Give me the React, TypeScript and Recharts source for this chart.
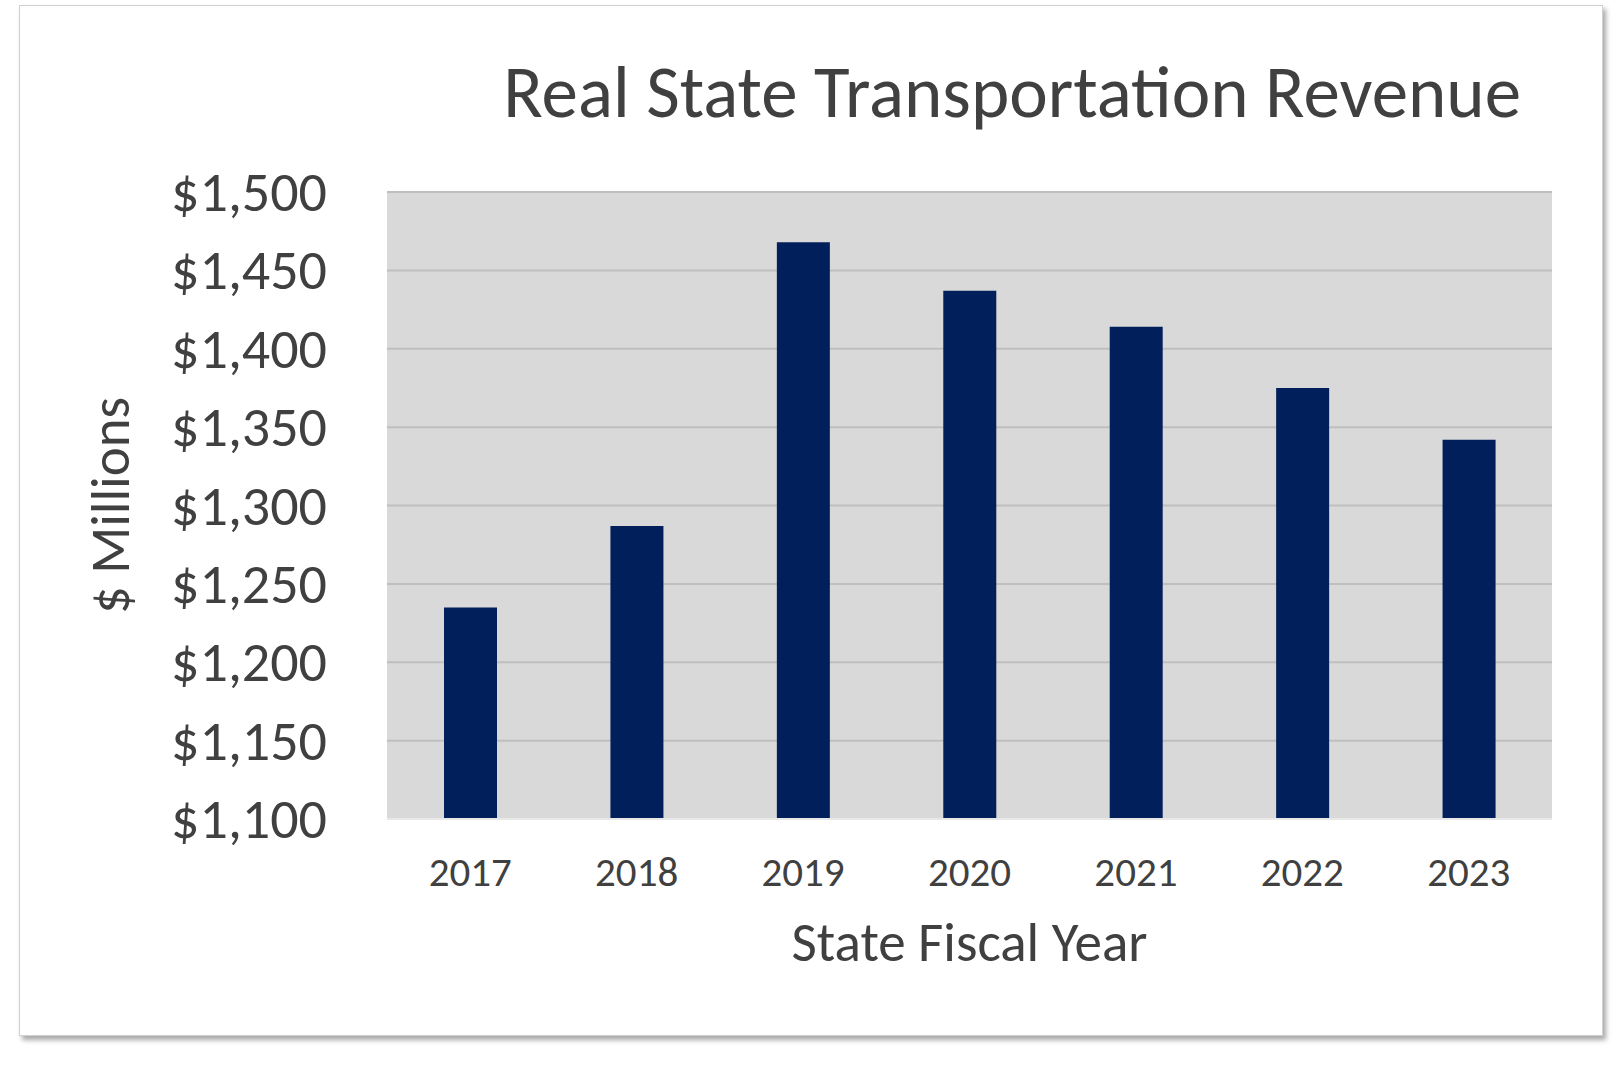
import { BarChart, Bar, XAxis, YAxis, CartesianGrid, Label } from "recharts";

const years = ["2017", "2018", "2019", "2020", "2021", "2022", "2023"];
const revenue = [1235, 1287, 1468, 1437, 1414, 1375, 1342];
const yTicks = [1100, 1150, 1200, 1250, 1300, 1350, 1400, 1450, 1500];

const data = years.map((year, i) => ({ year, revenue: revenue[i] }));
const font = "Carlito, 'Open Sans', 'Liberation Sans', sans-serif";
const ink = "#404040";

function YTick({ x, y, payload }: any) {
  return (
    <text x={x - 52} y={y} dy={19} textAnchor="end" fontSize={56} fill={ink} fontFamily={font}>
      {"$" + payload.value.toLocaleString("en-US")}
    </text>
  );
}

function XTick({ x, y, payload }: any) {
  return (
    <text x={x} y={y} dy={59} textAnchor="middle" fontSize={41} fill={ink} fontFamily={font}>
      {payload.value}
    </text>
  );
}

export default function App() {
  return (
    <div style={{ position: "absolute", left: 0, top: 0, width: 1622, height: 1067, background: "#fff" }}>
      <div
        style={{
          position: "absolute",
          left: 19,
          top: 5,
          width: 1582,
          height: 1029,
          border: "1px solid #d0d0d0",
          boxShadow: "3px 4px 5px rgba(0,0,0,0.35)",
          background: "#fff",
        }}
      >
        <div
          style={{
            position: "absolute",
            right: 81,
            top: 38,
            fontSize: 73,
            lineHeight: "96px",
            color: ink,
            fontFamily: font,
            whiteSpace: "nowrap",
          }}
        >
          Real State Transportation Revenue
        </div>
        <BarChart width={1582} height={1029} data={data} margin={{ top: 186, right: 50, left: 0, bottom: 0 }}>
          <CartesianGrid fill="#d9d9d9" stroke="#bfbfbf" strokeWidth={2} vertical={false} />
          <XAxis
            dataKey="year"
            height={216}
            tick={<XTick />}
            tickLine={false}
            axisLine={{ stroke: "#e8e8e8", strokeWidth: 2 }}
          >
            <Label value="State Fiscal Year" position="insideTop" offset={103} fontSize={55} fill={ink} fontFamily={font} />
          </XAxis>
          <YAxis
            width={367}
            domain={[1100, 1500]}
            ticks={yTicks}
            tick={<YTick />}
            tickLine={false}
            axisLine={false}
            interval={0}
          >
            <Label
              value="$ Millions"
              angle={-90}
              position="insideLeft"
              offset={89}
              fontSize={55}
              fill={ink}
              fontFamily={font}
              style={{ textAnchor: "middle" }}
            />
          </YAxis>
          <Bar dataKey="revenue" fill="#001f5b" barSize={53} isAnimationActive={false} />
        </BarChart>
      </div>
    </div>
  );
}
